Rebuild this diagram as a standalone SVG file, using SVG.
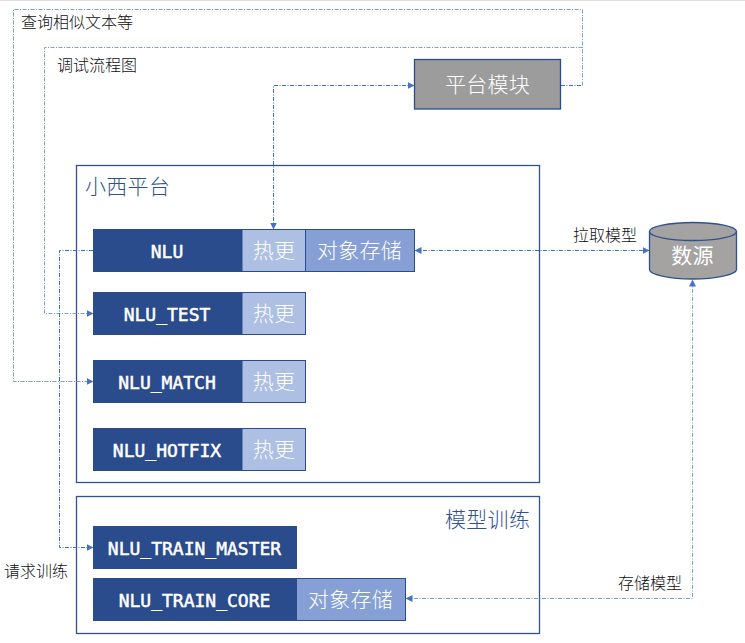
<svg xmlns="http://www.w3.org/2000/svg" width="745" height="643" viewBox="0 0 745 643">
<style>
text{font-family:"Noto Sans CJK SC","Noto Sans",sans-serif;}
.lbl{font-size:16px;fill:#111;font-weight:300}
.cap{font-size:21px;fill:#2f528f;font-weight:300;letter-spacing:.3px}
.wh{font-size:21px;fill:#fff;text-anchor:middle;font-weight:300;letter-spacing:.3px}
.mono{font-family:"DejaVu Sans Mono","Liberation Mono",monospace;font-size:18px;font-weight:400;fill:#fff;stroke:#fff;stroke-width:.5;text-anchor:middle}
.frame{fill:#fff;stroke:#2f528f;stroke-width:1.3}
.dark{fill:#2a4b8c}
.hot{fill:#adc0e3;stroke:#2a4b8c;stroke-width:1}
.store{fill:#86a0d6;stroke:#2a4b8c;stroke-width:1}
.c{fill:none;stroke:#3f6cc4;stroke-width:1;stroke-dasharray:4 1.500 1 1.500}
.f{stroke:#7d9ddc}
</style>
<defs>
<marker id="a" markerWidth="7" markerHeight="7" refX="6.500" refY="3.500" orient="auto-start-reverse" markerUnits="userSpaceOnUse"><path d="M0 0L7 3.500L0 7Z" fill="#4472c4"/></marker>
</defs>
<rect x="0" y="0" width="745" height="1" fill="#dedede"/>
<g id="frame-xiaoxi"><rect class="frame" x="76.500" y="165.500" width="463" height="317"/><text class="cap" x="85" y="194">小西平台</text></g>
<g id="frame-train"><rect class="frame" x="76.500" y="496.500" width="463" height="137"/><text class="cap" x="445" y="527">模型训练</text></g>
<g id="connectors">
<path class="c f" d="M582.500 85.500V9.500H13.500V381.500H93" marker-end="url(#a)"/>
<path class="c f" d="M582.500 47.500H44.500V313.500H93" marker-end="url(#a)"/>
<path class="c" d="M561 85.500H582.500"/>
<path class="c" d="M414 85.500H273.500V229" marker-start="url(#a)" marker-end="url(#a)"/>
<path class="c" d="M93 250.500H59.500V547.500H93" marker-end="url(#a)"/>
<path class="c" d="M415 250.500H649" marker-start="url(#a)" marker-end="url(#a)"/>
<path class="c f" d="M406 598.500H692.500V280" marker-start="url(#a)" marker-end="url(#a)"/>
</g>
<g id="platform"><rect x="414.500" y="59.500" width="146" height="49.500" fill="#9c9c9c" stroke="#2a4b8c" stroke-width="1.300"/><text class="wh" x="487.500" y="92">平台模块</text></g>
<g id="nlu"><rect class="dark" x="93" y="229" width="149" height="43"/><text class="mono" x="167" y="258">NLU</text><rect class="hot" x="242" y="229.500" width="63.500" height="42"/><text class="wh" x="274" y="258">热更</text><rect class="store" x="305.500" y="229.500" width="109" height="42"/><text class="wh" x="359.500" y="258">对象存储</text></g>
<g id="nlu-test"><rect class="dark" x="93" y="292" width="149" height="43"/><text class="mono" x="167" y="321">NLU_TEST</text><rect class="hot" x="242" y="292.500" width="63.500" height="42"/><text class="wh" x="274" y="321">热更</text></g>
<g id="nlu-match"><rect class="dark" x="93" y="360" width="149" height="43"/><text class="mono" x="167" y="389">NLU_MATCH</text><rect class="hot" x="242" y="360.500" width="63.500" height="42"/><text class="wh" x="274" y="389">热更</text></g>
<g id="nlu-hotfix"><rect class="dark" x="93" y="428" width="149" height="43"/><text class="mono" x="167" y="457">NLU_HOTFIX</text><rect class="hot" x="242" y="428.500" width="63.500" height="42"/><text class="wh" x="274" y="457">热更</text></g>
<g id="nlu-train-master"><rect class="dark" x="93" y="526" width="204" height="43"/><text class="mono" x="194.500" y="555">NLU_TRAIN_MASTER</text></g>
<g id="nlu-train-core"><rect class="dark" x="93" y="578" width="204" height="43"/><text class="mono" x="194.500" y="607">NLU_TRAIN_CORE</text><rect class="store" x="296.500" y="578.500" width="109" height="42"/><text class="wh" x="350.500" y="607">对象存储</text></g>
<g id="datasource"><path d="M649.500 231.500V269.500C649.500 274.500 669 279 692.500 279S736.500 274.500 736.500 269.500V231.500Z" fill="#a5a2a2" stroke="#2f528f" stroke-width="1.300"/><ellipse cx="693" cy="231.500" rx="43.500" ry="9" fill="#a5a2a2" stroke="#2f528f" stroke-width="1.300"/><text class="wh" x="692.500" y="263" style="font-weight:400">数源</text></g>
<g id="labels">
<text class="lbl" x="21" y="28">查询相似文本等</text>
<text class="lbl" x="57" y="71">调试流程图</text>
<text class="lbl" x="573" y="241">拉取模型</text>
<text class="lbl" x="618" y="589">存储模型</text>
<text class="lbl" x="4" y="577">请求训练</text>
</g>
</svg>
